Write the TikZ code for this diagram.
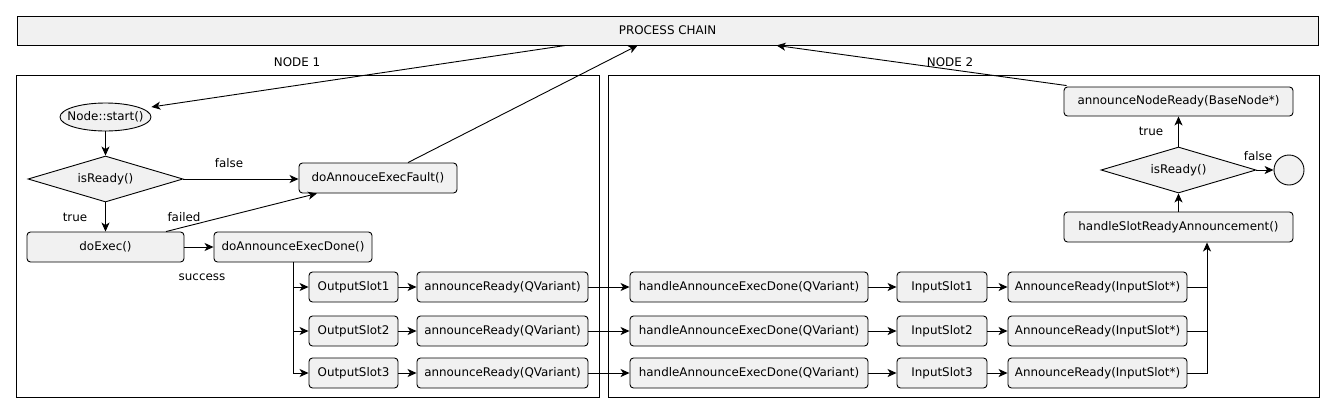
\documentclass[tikz,border=0pt]{standalone}
\usepackage{fontspec}
\setmainfont{DejaVu Sans}
\usetikzlibrary{shapes.geometric,arrows.meta,calc}
\definecolor{boxfill}{HTML}{F1F1F1}
\begin{document}
\begin{tikzpicture}[x=1pt,y=-1pt,
  every node/.style={font=\fontsize{11.9}{13}\selectfont},
  ln/.style={line width=0.9pt,black},
  arr/.style={ln,-{Stealth[length=9pt,width=8pt,inset=2.5pt]}},
  box/.style={draw,ln,fill=boxfill,rounded corners=3.5pt,minimum height=30pt,inner sep=0pt},
  dia/.style={draw,ln,fill=boxfill,shape=diamond,shape aspect=3.4,inner sep=0pt,minimum width=155pt,minimum height=46pt},
  frm/.style={draw,ln,inner sep=0pt},
  lbl/.style={inner sep=0pt}
]
\useasboundingbox[fill=white] (0,0) rectangle (1335,413);

% frames and header
\node[draw,ln,fill=boxfill,inner sep=0pt,minimum width=1301pt,minimum height=29pt] (pc) at (667.5,30.5) {PROCESS CHAIN};
\node[frm,minimum width=583pt,minimum height=322pt] (frame1) at (307.5,236) {};
\node[frm,minimum width=711pt,minimum height=322pt] (frame2) at (963.5,236) {};
\node[lbl] (node1) at (297,62) {NODE 1};
\node[lbl] (node2) at (950,62) {NODE 2};

% node 1
\node[draw,ln,fill=boxfill,shape=ellipse,inner xsep=-9pt,inner ysep=0pt,minimum width=91pt,minimum height=28pt] (start) at (105.5,117) {Node::start()};
\node[dia] (ready1) at (105.5,179) {isReady()};
\node[box,minimum width=157pt] (exec) at (105.5,247) {doExec()};
\node[box,minimum width=158pt] (done) at (293,247) {doAnnounceExecDone()};
\node[box,minimum width=158pt] (fault) at (378,178) {doAnnouceExecFault()};
\foreach \i/\y in {1/287,2/331,3/373}{
  \node[box,minimum width=89pt] (os\i) at (353.5,\y) {OutputSlot\i};
  \node[box,minimum width=171pt] (ar\i) at (502.5,\y) {announceReady(QVariant)};
  \node[box,minimum width=238pt] (h\i) at (749,\y) {handleAnnounceExecDone(QVariant)};
  \node[box,minimum width=90pt] (is\i) at (942,\y) {InputSlot\i};
  \node[box,minimum width=179pt] (air\i) at (1097.5,\y) {AnnounceReady(InputSlot*)};
}
\node[lbl] (false1) at (229,163) {false};
\node[lbl] (true1) at (75,217) {true};
\node[lbl] (failed) at (184,217) {failed};
\node[lbl] (success) at (202,277) {success};

% node 2
\node[box,minimum width=229pt] (hsr) at (1178.5,227) {handleSlotReadyAnnouncement()};
\node[dia] (ready2) at (1178.5,170) {isReady()};
\node[draw,ln,fill=boxfill,circle,inner sep=0pt,minimum size=30pt] (stop) at (1289,170) {};
\node[box,minimum width=229pt,minimum height=29pt] (anr) at (1178.5,101.5) {announceNodeReady(BaseNode*)};
\node[lbl] (true2) at (1151,131) {true};
\node[lbl] (false2) at (1258,156) {false};

% connectors
\coordinate (pcout) at ($(pc.south west)+(549,0)$);
\coordinate (pcin1) at ($(pc.south west)+(621,0)$);
\coordinate (pcin2) at ($(pc.south west)+(760,0)$);
\draw[arr] (pcout) -- ($(start.east)+(0,-10)$);
\draw[arr] (start.south) -- (ready1.north);
\draw[arr] (ready1.east) -- (ready1.east -| fault.west);
\draw[arr] (ready1.south) -- (exec.north);
\draw[arr] ($(exec.north)+(60.5,0)$) -- ($(fault.south)+(-61,0)$);
\draw[arr] (exec.east) -- (done.west);
\draw[ln] (done.south) -- (done.south |- os3.west);
\foreach \i in {1,2,3}{
  \draw[arr] (done.south |- os\i.west) -- (os\i.west);
  \draw[arr] (os\i.east) -- (ar\i.west);
  \draw[arr] (ar\i.east) -- (h\i.west);
  \draw[arr] (h\i.east) -- (is\i.west);
  \draw[arr] (is\i.east) -- (air\i.west);
}
\draw[arr] ($(fault.north)+(30,0)$) -- (pcin1);
\coordinate (busx) at ($(hsr.south)+(28.5,0)$);
\draw[ln] (air1.east) -- (air1.east -| busx);
\draw[ln] (air2.east) -- (air2.east -| busx);
\draw[arr] (air3.east) -- (air3.east -| busx) -- (busx |- hsr.south);
\draw[arr] (hsr.north) -- (ready2.south);
\draw[arr] (ready2.north) -- (anr.south);
\draw[arr] (ready2.east) -- (stop.west);
\draw[arr] ($(anr.north west)+(3,-1)$) -- (pcin2);
\end{tikzpicture}
\end{document}
